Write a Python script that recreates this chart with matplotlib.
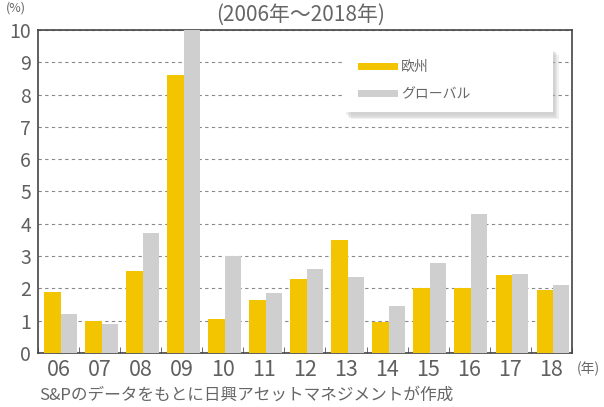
import matplotlib
matplotlib.use("Agg")
import matplotlib.pyplot as plt
import matplotlib.patheffects as pe
from matplotlib.patches import Rectangle
import numpy as np

plt.rcParams['font.family'] = ['Noto Sans CJK JP', 'DejaVu Sans']

years = ["06", "07", "08", "09", "10", "11", "12", "13", "14", "15", "16", "17", "18"]
europe = [1.9, 1.0, 2.55, 8.6, 1.05, 1.65, 2.3, 3.5, 0.95, 2.0, 2.0, 2.4, 1.95]
glob = [1.2, 0.9, 3.7, 10.2, 3.0, 1.85, 2.6, 2.35, 1.45, 2.8, 4.3, 2.45, 2.1]
series_names = ["欧州", "グローバル"]

fig = plt.figure(figsize=(6.04, 4.07), dpi=100)
ax = fig.add_axes([0.0629, 0.1327, 0.884, 0.7936])

x = np.arange(len(years))
yellow = "#f2c500"
gray = "#cfcfcf"
ax.bar(x - 0.155, europe, width=0.41, color=yellow, label=series_names[0], zorder=3)
ax.bar(x + 0.245, glob, width=0.39, color=gray, label=series_names[1], zorder=3)

ax.set_xlim(-0.5, len(years) - 0.5)
ax.set_ylim(0, 10)
ax.set_yticks(range(0, 11))
ax.set_yticklabels([str(i) for i in range(0, 11)])
ax.yaxis.grid(True, linestyle=(0, (3, 3)), color="#888888", linewidth=0.8, zorder=0)
ax.tick_params(axis='y', length=0, labelsize=14, labelcolor="#606060", pad=5)

ax.set_xticks(x)
ax.set_xticklabels(years)
ax.tick_params(axis='x', length=0, labelsize=15.5, labelcolor="#606060", pad=4)
ax.set_xticks(np.arange(-0.5, len(years) - 0.4, 1), minor=True)
ax.tick_params(axis='x', which='minor', length=4, direction='in', color="#555555")

for s in ax.spines.values():
    s.set_color("#444444")
    s.set_linewidth(1.2)

# legend box with soft shadow (layered to look blurred)
shadows = [pe.SimplePatchShadow(offset=(o, -o - 1), shadow_rgbFace="#b0b0b0", alpha=0.18)
           for o in (4, 3, 2, 1)]
box = Rectangle((0.575, 0.745), 0.39, 0.2, transform=ax.transAxes, facecolor="white",
                edgecolor="none", zorder=5, path_effects=shadows + [pe.Normal()])
ax.add_patch(box)
leg = ax.legend(loc="upper left", bbox_to_anchor=(0.575, 0.945), frameon=False,
                fontsize=10, handlelength=2.95, handleheight=0.36, handletextpad=0.2,
                borderpad=0.9, borderaxespad=0, labelspacing=0.95)
leg.set_zorder(6)
for t in leg.get_texts():
    t.set_color("#666666")

fig.text(0.01, 0.997, "(%)", fontsize=9, color="#666666", va="top", ha="left")
fig.text(0.497, 0.963, "(2006年〜2018年)", fontsize=15, color="#666666", va="center", ha="center")
fig.text(0.955, 0.093, "(年)", fontsize=10, color="#666666", va="center", ha="left")
fig.text(0.065, 0.03, "S&Pのデータをもとに日興アセットマネジメントが作成", fontsize=12, color="#666666",
         va="center", ha="left")

fig.savefig("out.png", dpi=100)
